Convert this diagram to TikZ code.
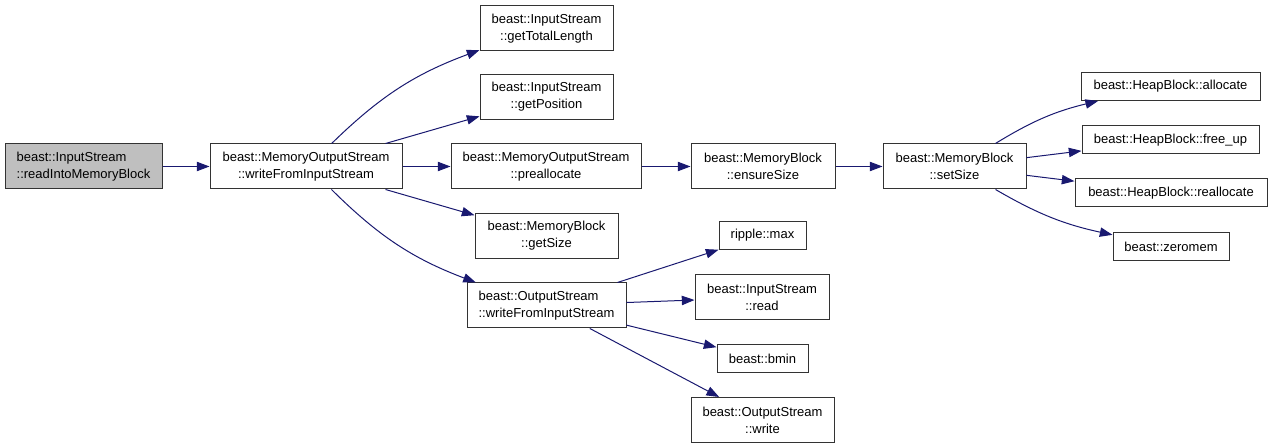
\documentclass[tikz,border=0pt]{standalone}
\usepackage{fontspec}
\setmainfont{Liberation Sans}
\usetikzlibrary{arrows.meta}
\definecolor{edgeblue}{HTML}{191970}
\definecolor{rootgray}{HTML}{BFBFBF}

\begin{document}
\begin{tikzpicture}[x=0.75pt,y=0.75pt,
  fn/.style={draw=black!80,line width=0.75pt,inner sep=0pt,align=center,minimum width=#1*0.75pt,minimum height=33.75pt},
  fnone/.style={fn=#1,minimum height=21pt},
  call/.style={-{Triangle[length=9.5pt,width=7pt]},edgeblue,line width=0.75pt},
  every node/.append style={font=\fontsize{9.75}{12.75}\selectfont}]
  \useasboundingbox (0,0) rectangle (1272,-448);

  \node[fn=157,fill=rootgray,align=left] (readblock) at (83.5,-166.5) {beast::InputStream\\::readIntoMemoryBlock};
  \node[fn=192] (mwrite) at (306,-166.5) {beast::MemoryOutputStream\\::writeFromInputStream};

  \node[fn=133] (totallen) at (546.5,-28.5) {beast::InputStream\\::getTotalLength};
  \node[fn=133] (position) at (546.5,-97) {beast::InputStream\\::getPosition};
  \node[fn=190] (prealloc) at (546,-166.5) {beast::MemoryOutputStream\\::preallocate};
  \node[fn=143] (getsize) at (546.5,-236) {beast::MemoryBlock\\::getSize};
  \node[fn=159,align=left] (owrite) at (546.5,-305.5) {beast::OutputStream\\::writeFromInputStream};

  \node[fn=144] (ensure) at (763,-166.5) {beast::MemoryBlock\\::ensureSize};
  \node[fnone=87] (rmax) at (762.5,-235.5) {ripple::max};
  \node[fn=134] (isread) at (762,-297.5) {beast::InputStream\\::read};
  \node[fnone=91] (bmin) at (762.5,-358.5) {beast::bmin};
  \node[fn=143] (oswrite) at (762.5,-420) {beast::OutputStream\\::write};

  \node[fn=143] (setsize) at (954.5,-166.5) {beast::MemoryBlock\\::setSize};
  \node[fnone=179] (allocate) at (1170.5,-86.5) {beast::HeapBlock::allocate};
  \node[fnone=177] (freeup) at (1170.5,-140) {beast::HeapBlock::free\_up};
  \node[fnone=192] (realloc) at (1171,-193) {beast::HeapBlock::reallocate};
  \node[fnone=116] (zeromem) at (1171,-246.5) {beast::zeromem};

  \draw[call] (readblock) -- (mwrite);
  \draw[call] (mwrite) to[bend left=12] (totallen);
  \draw[call] (mwrite) -- (position);
  \draw[call] (mwrite) -- (prealloc);
  \draw[call] (mwrite) -- (getsize);
  \draw[call] (mwrite) to[bend right=12] (owrite);
  \draw[call] (prealloc) -- (ensure);
  \draw[call] (ensure) -- (setsize);
  \draw[call] (setsize) to[bend left=9] (allocate);
  \draw[call] (setsize) -- (freeup);
  \draw[call] (setsize) -- (realloc);
  \draw[call] (setsize) to[bend right=9] (zeromem);
  \draw[call] (owrite) -- (rmax);
  \draw[call] (owrite) -- (isread);
  \draw[call] (owrite) -- (bmin);
  \draw[call] (owrite) -- (oswrite);
\end{tikzpicture}
\end{document}
